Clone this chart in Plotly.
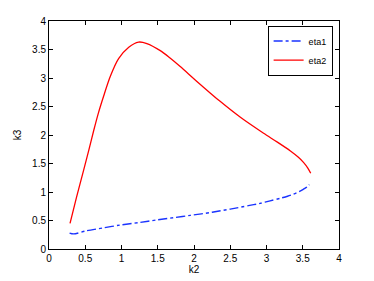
import plotly.graph_objects as go

# eta1 branch (blue dash-dot)
eta1_k2 = [0.284, 0.34, 0.52, 0.75, 0.98, 1.25, 1.49, 1.72, 1.95, 2.25, 2.5, 2.75, 2.91, 3.05, 3.19, 3.29, 3.37, 3.45, 3.51, 3.56, 3.59]
eta1_k3 = [0.28, 0.265, 0.32, 0.37, 0.42, 0.465, 0.51, 0.55, 0.59, 0.645, 0.70, 0.76, 0.80, 0.845, 0.89, 0.925, 0.96, 1.005, 1.05, 1.09, 1.13]

# eta2 branch (red solid)
eta2_k2 = [0.29, 0.38, 0.477, 0.55, 0.615, 0.68, 0.753, 0.846, 0.96, 1.10, 1.236, 1.35, 1.535, 1.67, 1.81, 2.04, 2.36, 2.64, 2.96, 3.15, 3.33, 3.44, 3.51, 3.57, 3.61]
eta2_k3 = [0.45, 0.91, 1.38, 1.74, 2.07, 2.38, 2.68, 3.03, 3.34, 3.54, 3.63, 3.605, 3.48, 3.35, 3.20, 2.94, 2.59, 2.31, 2.03, 1.875, 1.72, 1.61, 1.52, 1.42, 1.33]

x_ticks = [0, 0.5, 1, 1.5, 2, 2.5, 3, 3.5, 4]
y_ticks = [0, 0.5, 1, 1.5, 2, 2.5, 3, 3.5, 4]

FONT = "Liberation Sans, Arial, Helvetica, sans-serif"

fig = go.Figure()
fig.add_trace(go.Scatter(x=eta1_k2, y=eta1_k3, mode="lines", name="eta1",
                         line=dict(color="#1a33ff", width=1.4, dash="dashdot", shape="spline", smoothing=0.8)))
fig.add_trace(go.Scatter(x=eta2_k2, y=eta2_k3, mode="lines", name="eta2",
                         line=dict(color="#ff0000", width=1.3, shape="spline", smoothing=0.8)))

axis_common = dict(showgrid=False, zeroline=False, showline=True, linecolor="black",
                   linewidth=1, mirror="ticks", ticks="inside", ticklen=4, tickcolor="black",
                   automargin=False,
                   tickfont=dict(size=10, color="black", family=FONT))

fig.update_xaxes(range=[0, 4], tickvals=x_ticks, ticktext=[f"{v:g}" for v in x_ticks],
                 title=dict(text="k2", font=dict(size=10, color="black", family=FONT), standoff=2),
                 **axis_common)
fig.update_yaxes(range=[0, 4], tickvals=y_ticks, ticktext=[f"{v:g}" for v in y_ticks],
                 title=dict(text="k3", font=dict(size=10, color="black", family=FONT), standoff=8),
                 **axis_common)

# the page body adds an 8px offset, so the figure is sized to the remaining area
fig.update_layout(
    width=366, height=273,
    margin=dict(l=41, r=35, t=13, b=32),
    plot_bgcolor="white", paper_bgcolor="white",
    showlegend=True,
    legend=dict(x=0.978, y=0.98, xanchor="right", yanchor="top",
                bgcolor="white", bordercolor="black", borderwidth=1,
                font=dict(size=9, color="black", family=FONT),
                tracegroupgap=0, itemwidth=30),
)

fig.write_html("out.html")
